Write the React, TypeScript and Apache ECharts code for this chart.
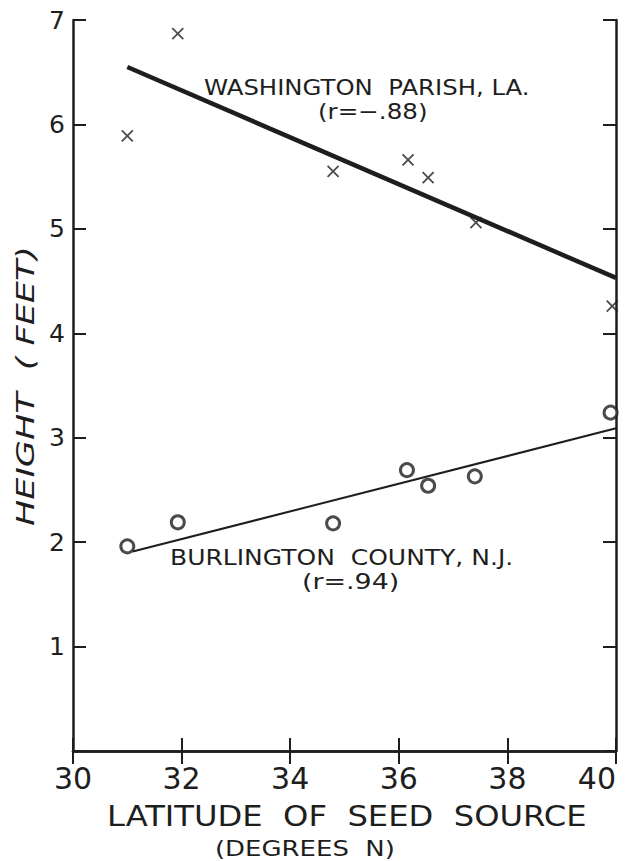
import React, { useEffect, useRef } from "react";
import * as echarts from "echarts";

const xTicks = [30, 32, 34, 36, 38, 40];
const yTicks = [1, 2, 3, 4, 5, 6, 7];

const washLat = [31.0, 31.93, 34.79, 36.17, 36.54, 37.42, 39.93];
const washHeight = [5.89, 6.87, 5.55, 5.66, 5.49, 5.06, 4.26];
const washFitLat = [31.0, 40.0];
const washFitHeight = [6.55, 4.53];

const burlLat = [31.0, 31.93, 34.79, 36.15, 36.54, 37.4, 39.9];
const burlHeight = [1.96, 2.19, 2.18, 2.69, 2.54, 2.63, 3.24];
const burlFitLat = [31.1, 40.0];
const burlFitHeight = [1.91, 3.09];

const FONT = "'DejaVu Sans', 'Liberation Sans', sans-serif";
const INK = "#1e1e1e";

export default function App() {
  const ref = useRef<HTMLDivElement>(null);
  useEffect(() => {
    document.body.style.margin = "0";
    const chart = echarts.init(ref.current!, null, { renderer: "svg" });
    const axisLine = { show: true, lineStyle: { color: INK, width: 2.5 } };
    const tick = { show: true, inside: true, length: 13, lineStyle: { color: INK, width: 2 } };
    const pair = (xs: number[], ys: number[]) => xs.map((x, i) => [x, ys[i]]);
    const label = (text: string, x: number, y: number, size: number, sx: number, extra: any = {}) => ({
      type: "text",
      x,
      y,
      scaleX: sx,
      style: { text, font: `${size}px ${FONT}`, fill: INK, verticalAlign: "middle", ...extra },
    });
    chart.setOption({
      animation: false,
      backgroundColor: "#ffffff",
      grid: { left: 73, top: 20, right: 9, bottom: 110, containLabel: false },
      xAxis: [
        {
          type: "value", min: xTicks[0], max: xTicks[xTicks.length - 1], interval: 2,
          axisLine, axisTick: tick, splitLine: { show: false },
          axisLabel: { color: INK, fontSize: 30, fontFamily: FONT, margin: 12, alignMaxLabel: "right" },
        },
        {
          type: "value", position: "top", min: 30, max: 40, interval: 2,
          axisLine, axisTick: tick, splitLine: { show: false }, axisLabel: { show: false },
        },
      ],
      yAxis: [
        {
          type: "value", min: 0, max: yTicks[yTicks.length - 1], interval: 1,
          axisLine, axisTick: tick, splitLine: { show: false },
          axisLabel: {
            color: INK, fontSize: 25, fontFamily: FONT, margin: 8,
            formatter: (v: number) => (v === 0 ? "" : String(v)),
          },
        },
        {
          type: "value", position: "right", min: 0, max: 7, interval: 1,
          axisLine, axisTick: tick, splitLine: { show: false }, axisLabel: { show: false },
        },
      ],
      series: [
        {
          type: "line", data: pair(washFitLat, washFitHeight), symbol: "none",
          lineStyle: { color: INK, width: 4.5 },
        },
        {
          type: "line", data: pair(burlFitLat, burlFitHeight), symbol: "none",
          lineStyle: { color: INK, width: 2 },
        },
        {
          type: "scatter", data: pair(washLat, washHeight),
          symbol: "path://M0,0L10,10M10,0L0,10", symbolSize: 11,
          itemStyle: { color: "transparent", borderColor: INK, borderWidth: 1.8 },
        },
        {
          type: "scatter", data: pair(burlLat, burlHeight),
          symbol: "circle", symbolSize: 13,
          itemStyle: { color: "#ffffff", borderColor: INK, borderWidth: 3 },
        },
      ],
      graphic: [
        label("WASHINGTON  PARISH, LA.", 204, 88, 21, 1.16),
        label("(r=−.88)", 318, 112, 21, 1.17),
        label("BURLINGTON  COUNTY, N.J.", 170, 558, 21, 1.19),
        label("(r=.94)", 302, 582, 21, 1.28),
        label("LATITUDE  OF  SEED  SOURCE", 107, 816, 28, 1.15),
        label("(DEGREES  N)", 215, 849, 22, 1.18),
        {
          type: "text", x: 25, y: 386, rotation: Math.PI / 2, scaleX: 1.4,
          style: {
            text: "HEIGHT  ( FEET)", font: `italic 25px ${FONT}`, fill: INK,
            align: "center", verticalAlign: "middle",
          },
        },
      ],
    });
    return () => chart.dispose();
  }, []);
  return <div ref={ref} style={{ width: 625, height: 861 }} />;
}
